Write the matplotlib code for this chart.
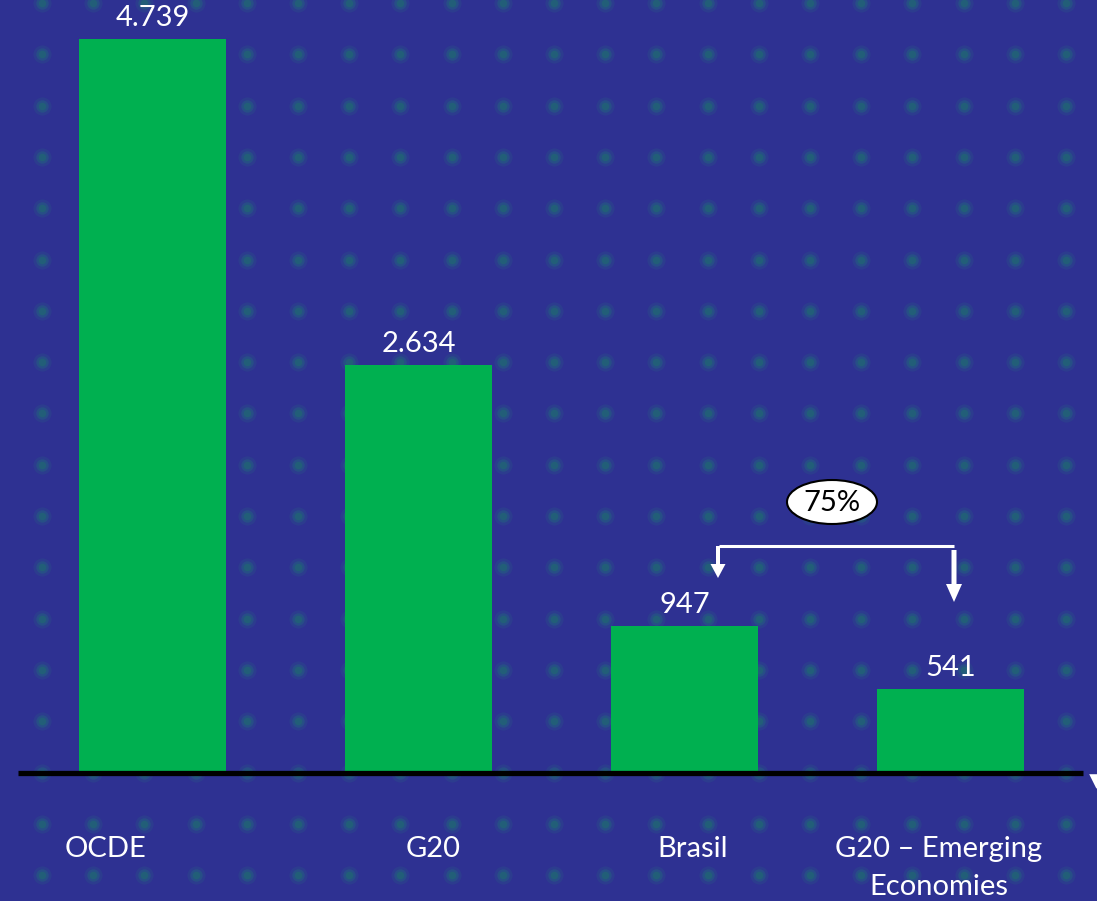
import numpy as np
import matplotlib
matplotlib.use("Agg")
import matplotlib.pyplot as plt
from matplotlib.patches import Ellipse, FancyArrow

# ---- data ----
categories = ["OCDE", "G20", "Brasil", "G20 – Emerging\nEconomies"]
values = [4739, 2634, 947, 541]
annotation_text = "75%"

# ---- style ----
W, H, DPI = 1097, 901, 100
BG = "#2e3192"
BAR = "#00b050"
FONT = ["Lato", "DejaVu Sans"]
FS = 21

fig = plt.figure(figsize=(W / DPI, H / DPI), dpi=DPI)
fig.patch.set_facecolor(BG)

# background dot pattern in pixel coordinates
bg = fig.add_axes([0, 0, 1, 1], zorder=0)
bg.set_xlim(0, W)
bg.set_ylim(H, 0)
bg.axis("off")
bg.set_facecolor(BG)
gx = np.arange(42, W, 51.2)
gy = np.arange(3, H + 10, 51.3)
X, Y = np.meshgrid(gx, gy)
bg.scatter(X.ravel(), Y.ravel(), s=170, color="#2a4a8a", alpha=0.45, linewidths=0)
bg.scatter(X.ravel(), Y.ravel(), s=80, color="#236080", alpha=0.5, linewidths=0)
bg.scatter(X.ravel(), Y.ravel(), s=30, color="#1f6a70", alpha=0.6, linewidths=0)

# main chart: px = 152.5 + 266*x ; py = 773 - scale*v
ax = fig.add_axes([0, 0, 1, 1], zorder=1)
ax.patch.set_alpha(0)
scale = 734 / 4739
ax.set_xlim(-152.5 / 266, (W - 152.5) / 266)
ax.set_ylim(-(H - 773) / scale, 773 / scale)
ax.axis("off")

x = np.arange(len(categories))
ax.bar(x, values, width=147 / 266, color=BAR, zorder=2)
ax.plot([(18 - 152.5) / 266, (1083 - 152.5) / 266], [0, 0], color="black",
        lw=3.8, solid_capstyle="butt", zorder=3)

for xi, v in zip(x, values):
    lab = f"{v:,}".replace(",", ".")
    ax.annotate(lab, (xi, v), xytext=(0, 9.5), textcoords="offset points",
                ha="center", va="baseline", color="white", fontsize=FS,
                family=FONT)

# overlay in pixel coords for category labels and annotation
ov = fig.add_axes([0, 0, 1, 1], zorder=3)
ov.patch.set_alpha(0)
ov.set_xlim(0, W)
ov.set_ylim(H, 0)
ov.axis("off")

label_px = [105, 433, 693, 939]
for lx, lab in zip(label_px, categories):
    for k, line in enumerate(lab.split("\n")):
        ov.text(lx, 857 + 38 * k, line, ha="center", va="baseline",
                color="white", fontsize=FS, family=FONT)

# bracket + arrows
ov.plot([719, 954], [546, 546], color="white", lw=2.2, solid_capstyle="butt")
ov.add_patch(FancyArrow(718, 546, 0, 32, width=4, head_width=15,
                        head_length=14, length_includes_head=True,
                        color="white", lw=0))
ov.add_patch(FancyArrow(954, 550, 0, 52, width=5, head_width=16,
                        head_length=18, length_includes_head=True,
                        color="white", lw=0))
ov.add_patch(Ellipse((832, 502), 90, 44, facecolor="white",
                     edgecolor="black", lw=1.5))
ov.text(832, 503, annotation_text, ha="center", va="center", color="black",
        fontsize=FS, family=FONT)

# small cut-off triangle at right edge
ov.scatter([1096], [781], marker="v", s=110, color="white", linewidths=0)

fig.savefig("out.png", dpi=DPI, facecolor=BG)
